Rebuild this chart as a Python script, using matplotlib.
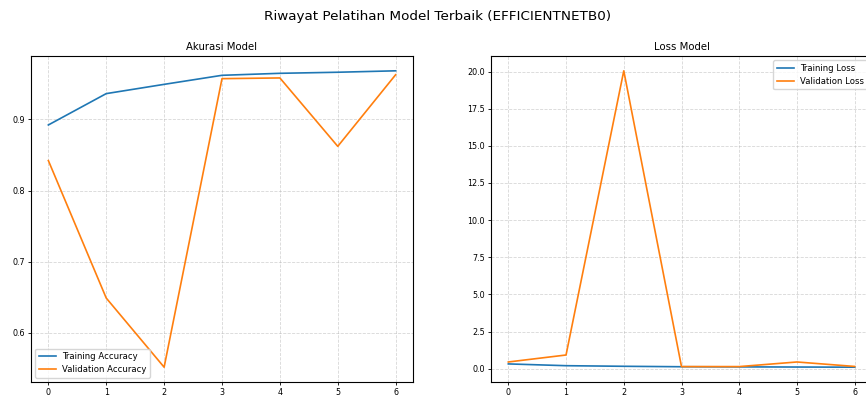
import matplotlib
matplotlib.use("Agg")
import matplotlib.pyplot as plt

epochs = [0, 1, 2, 3, 4, 5, 6]
train_acc = [0.892, 0.936, 0.949, 0.9617, 0.9645, 0.966, 0.968]
val_acc = [0.842, 0.649, 0.552, 0.957, 0.958, 0.862, 0.9625]
train_loss = [0.32, 0.20, 0.16, 0.13, 0.12, 0.11, 0.10]
val_loss = [0.45, 0.92, 20.05, 0.14, 0.14, 0.45, 0.15]

fig = plt.figure(figsize=(8.66, 3.96), dpi=100)
ax1 = fig.add_axes([31/866, 14/396, 382/866, 326/396])
ax2 = fig.add_axes([491/866, 14/396, 381/866, 326/396])

fig.suptitle("Riwayat Pelatihan Model Terbaik (EFFICIENTNETB0)", x=438/866, y=0.975, fontsize=9.7)

ax1.plot(epochs, train_acc, label="Training Accuracy", color="#1f77b4", lw=1.2)
ax1.plot(epochs, val_acc, label="Validation Accuracy", color="#ff7f0e", lw=1.2)
ax1.set_title("Akurasi Model", fontsize=7.3, pad=4)
ax1.legend(loc="lower left", fontsize=6.1)

ax2.plot(epochs, train_loss, label="Training Loss", color="#1f77b4", lw=1.2)
ax2.plot(epochs, val_loss, label="Validation Loss", color="#ff7f0e", lw=1.2)
ax2.set_title("Loss Model", fontsize=7.3, pad=4)
ax2.legend(loc="upper right", fontsize=6.1)

for ax in (ax1, ax2):
    ax.grid(True, linestyle="--", alpha=0.5, lw=0.6)
    ax.tick_params(labelsize=5.8, length=2.5, width=0.6, pad=2)
    for s in ax.spines.values():
        s.set_linewidth(0.8)

fig.savefig("out.png", dpi=100)
